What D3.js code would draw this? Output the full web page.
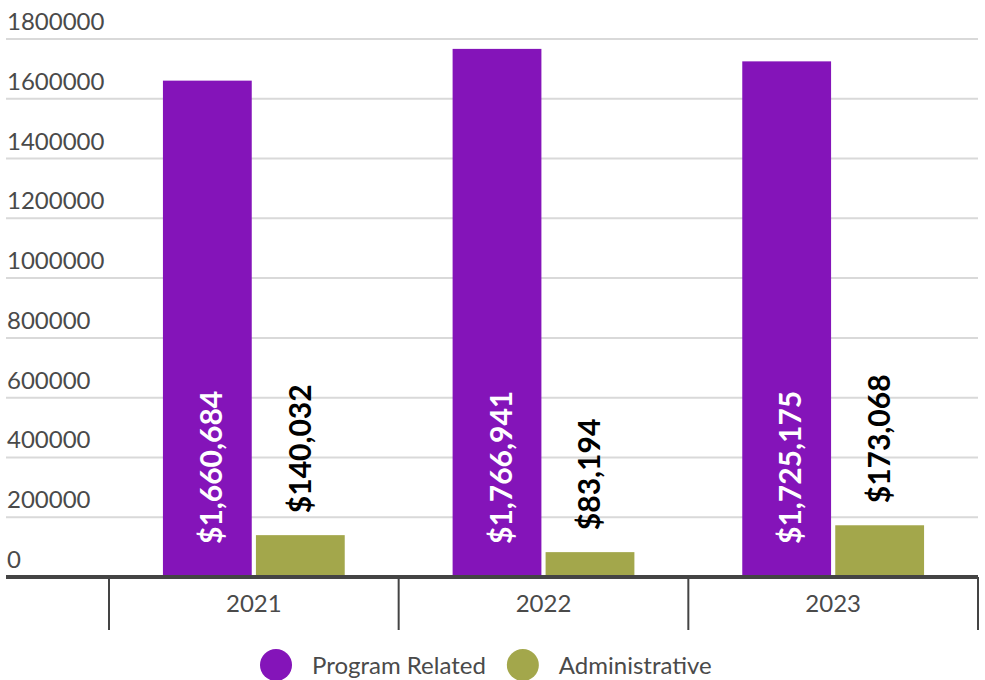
<!DOCTYPE html>
<html>
<head>
<meta charset="utf-8">
<script src="https://cdn.jsdelivr.net/npm/d3@7/dist/d3.min.js"></script>
<style>
    body { margin: 0; background: #fff; }
    svg text { font-family: Lato, "Open Sans", sans-serif; }
</style>
</head>
<body>
<div id="chart-area"></div>
<script>

// data
var years = ["2021", "2022", "2023"];
var seriesNames = ["Program Related", "Administrative"];
var programRelated = [1660684, 1766941, 1725175];
var administrative = [140032, 83194, 173068];
var yTicks = [0, 200000, 400000, 600000, 800000, 1000000, 1200000, 1400000, 1600000, 1800000];
var colors = ["#8414b9", "#a3a74b"];

/*
 * GroupedBars - Object constructor function
 */
GroupedBars = function(_parentElement){
    this.parentElement = _parentElement;
    this.initVis();
}

GroupedBars.prototype.initVis = function(){
    var vis = this;

    vis.width = 985;
    vis.height = 680;

    vis.svg = d3.select("#" + vis.parentElement).append("svg")
        .attr("width", vis.width)
        .attr("height", vis.height);

    // plot area edges
    vis.left = 6;
    vis.right = 978;
    vis.bottom = 577;

    vis.y = d3.scaleLinear()
        .domain([0, 1800000])
        .range([vis.bottom, 39]);

    vis.x = d3.scaleBand()
        .domain(years)
        .range([109, vis.right]);

    vis.xSeries = d3.scaleBand()
        .domain(seriesNames)
        .range([0, vis.x.bandwidth()])
        .paddingInner(0.045)
        .paddingOuter(0.58);

    vis.color = d3.scaleOrdinal()
        .domain(seriesNames)
        .range(colors);

    vis.wrangleData();
}

GroupedBars.prototype.wrangleData = function(){
    var vis = this;

    vis.displayData = [];
    years.forEach(function(yr, i){
        vis.displayData.push({ year: yr, series: seriesNames[0], value: programRelated[i] });
        vis.displayData.push({ year: yr, series: seriesNames[1], value: administrative[i] });
    });

    vis.updateVis();
}

GroupedBars.prototype.updateVis = function(){
    var vis = this;
    var fmt = d3.format("$,");

    // gridlines + y labels
    var grid = vis.svg.append("g").attr("class", "grid");

    grid.selectAll("line")
        .data(yTicks.filter(function(d){ return d > 0; }))
        .enter().append("line")
        .attr("x1", vis.left)
        .attr("x2", vis.right)
        .attr("y1", function(d){ return vis.y(d); })
        .attr("y2", function(d){ return vis.y(d); })
        .style("stroke", "#d9d9d9")
        .style("stroke-width", 2);

    grid.selectAll("text")
        .data(yTicks)
        .enter().append("text")
        .attr("x", 7)
        .attr("y", function(d){ return vis.y(d) - 9; })
        .style("font-size", "24px")
        .style("fill", "#4a4a4a")
        .text(function(d){ return d; });

    // bars
    vis.svg.selectAll(".bar")
        .data(vis.displayData)
        .enter().append("rect")
        .attr("class", "bar")
        .attr("x", function(d){ return vis.x(d.year) + vis.xSeries(d.series); })
        .attr("width", vis.xSeries.bandwidth())
        .attr("y", function(d){ return vis.y(d.value); })
        .attr("height", function(d){ return vis.bottom - vis.y(d.value); })
        .attr("fill", function(d){ return vis.color(d.series); });

    // value labels (rotated)
    vis.svg.selectAll(".value-label")
        .data(vis.displayData)
        .enter().append("text")
        .attr("class", "value-label")
        .attr("transform", function(d){
            var cx = vis.x(d.year) + vis.xSeries(d.series) + vis.xSeries.bandwidth() / 2;
            var ty;
            if (d.series === seriesNames[0]) {
                cx += 4;
                ty = vis.bottom - 33;
            } else {
                ty = vis.y(d.value) - 22;
            }
            return "translate(" + cx + "," + ty + ") rotate(-90)";
        })
        .attr("dy", "0.35em")
        .style("font-size", "30px")
        .style("font-weight", "bold")
        .style("fill", function(d){ return d.series === seriesNames[0] ? "#fff" : "#000"; })
        .text(function(d){ return fmt(d.value); });

    // x axis: baseline, band ticks, year labels
    var xAxis = vis.svg.append("g").attr("class", "x-axis");

    xAxis.selectAll(".tick-line")
        .data(years.concat(["end"]))
        .enter().append("line")
        .attr("class", "tick-line")
        .attr("x1", function(d, i){ return i < years.length ? vis.x(d) : vis.right; })
        .attr("x2", function(d, i){ return i < years.length ? vis.x(d) : vis.right; })
        .attr("y1", vis.bottom)
        .attr("y2", 630)
        .style("stroke", "#444")
        .style("stroke-width", 2);

    xAxis.append("line")
        .attr("x1", vis.left)
        .attr("x2", vis.right)
        .attr("y1", vis.bottom)
        .attr("y2", vis.bottom)
        .style("stroke", "#444")
        .style("stroke-width", 4);

    xAxis.selectAll(".year-label")
        .data(years)
        .enter().append("text")
        .attr("class", "year-label")
        .attr("x", function(d){ return vis.x(d) + vis.x.bandwidth() / 2; })
        .attr("y", 612)
        .attr("text-anchor", "middle")
        .style("font-size", "24px")
        .style("fill", "#4a4a4a")
        .text(function(d){ return d; });

    // legend
    var legend = vis.svg.append("g").attr("class", "legend");
    var lx = 260;
    seriesNames.forEach(function(name){
        legend.append("circle")
            .attr("cx", lx + 16)
            .attr("cy", 665)
            .attr("r", 16)
            .attr("fill", vis.color(name));
        var t = legend.append("text")
            .attr("x", lx + 52)
            .attr("y", 674)
            .style("font-size", "24px")
            .style("fill", "#4a4a4a")
            .text(name);
        lx += 52 + t.node().getComputedTextLength() + 21;
    });
}

new GroupedBars("chart-area");

</script>
</body>
</html>
